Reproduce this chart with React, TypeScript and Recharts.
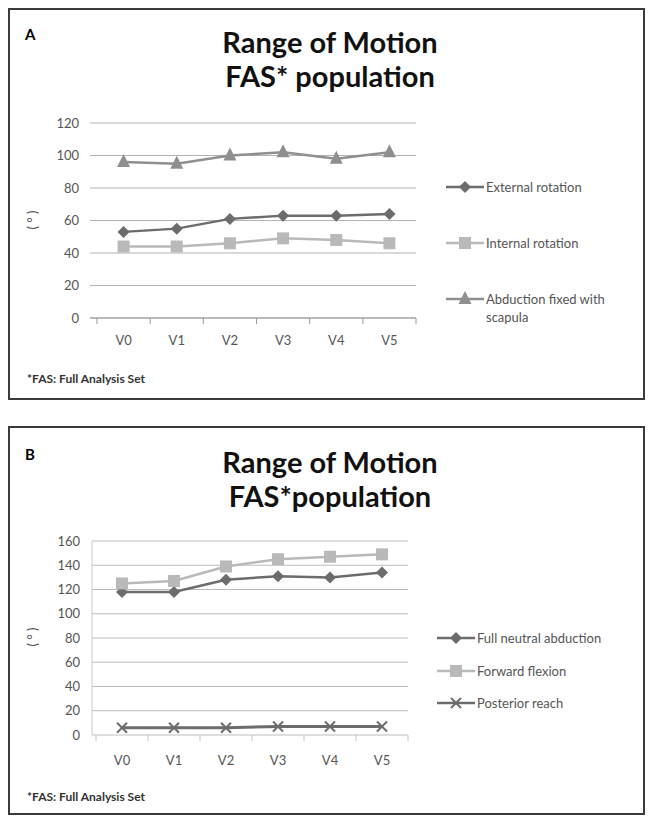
import React from 'react';
import { LineChart, Line, XAxis, YAxis, CartesianGrid, Legend } from 'recharts';

const visits = ['V0', 'V1', 'V2', 'V3', 'V4', 'V5'];

// panel A
const externalRotation = [53, 55, 61, 63, 63, 64];
const internalRotation = [44, 44, 46, 49, 48, 46];
const abductionFixed = [96, 95, 100, 102, 98, 102];
const ticksA = [0, 20, 40, 60, 80, 100, 120];

// panel B
const fullNeutralAbduction = [118, 118, 128, 131, 130, 134];
const forwardFlexion = [125, 127, 139, 145, 147, 149];
const posteriorReach = [6, 6, 6, 7, 7, 7];
const ticksB = [0, 20, 40, 60, 80, 100, 120, 140, 160];

const dataA = visits.map((v, i) => ({
  visit: v,
  ext: externalRotation[i],
  int: internalRotation[i],
  abd: abductionFixed[i],
}));

const dataB = visits.map((v, i) => ({
  visit: v,
  fna: fullNeutralAbduction[i],
  ff: forwardFlexion[i],
  pr: posteriorReach[i],
}));

const FONT = 'Lato, "Liberation Sans", sans-serif';
const DARK = '#6c6c6c';
const LIGHT = '#b9b9b9';
const MID = '#8f8f8f';
const TEXT = '#555';

const shapes: Record<string, string> = {
  ext: 'diamond',
  int: 'square',
  abd: 'triangle',
  fna: 'diamond',
  ff: 'square',
  pr: 'x',
};
// legend keeps series order, not alphabetical
const seriesOrder = ['ext', 'int', 'abd', 'fna', 'ff', 'pr'];

const Marker = ({ shape, cx, cy, color }: any) => {
  if (cx == null || cy == null) return null;
  if (shape === 'diamond') {
    const h = 6;
    return <polygon points={`${cx},${cy - h} ${cx + h},${cy} ${cx},${cy + h} ${cx - h},${cy}`} fill={color} />;
  }
  if (shape === 'square') {
    return <rect x={cx - 6} y={cy - 6} width={12} height={12} fill={color} />;
  }
  if (shape === 'triangle') {
    return <polygon points={`${cx},${cy - 8} ${cx + 6.5},${cy + 5} ${cx - 6.5},${cy + 5}`} fill={color} />;
  }
  return (
    <g stroke={color} strokeWidth={2}>
      <line x1={cx - 5} y1={cy - 5} x2={cx + 5} y2={cy + 5} />
      <line x1={cx - 5} y1={cy + 5} x2={cx + 5} y2={cy - 5} />
    </g>
  );
};

const dotFor = (key: string, color: string) => (p: any) =>
  <Marker key={`${key}-${p.index}`} shape={shapes[key]} cx={p.cx} cy={p.cy} color={color} />;

const VisitTick = ({ x, y, payload, index, half, lift, markColor }: any) => (
  <g>
    <text x={x} y={y} dy="0.35em" textAnchor="middle" fontSize={13} fill={TEXT} fontFamily={FONT}>
      {payload.value}
    </text>
    <line x1={x + half} x2={x + half} y1={y - lift} y2={y - lift + 6} stroke={markColor} />
    {index === 0 && <line x1={x - half} x2={x - half} y1={y - lift} y2={y - lift + 6} stroke={markColor} />}
  </g>
);

const LegendList = ({ payload, rowHeight, textWidth }: any) => {
  const items = [...(payload || [])].sort(
    (a: any, b: any) => seriesOrder.indexOf(a.dataKey) - seriesOrder.indexOf(b.dataKey)
  );
  return (
    <div style={{ fontFamily: FONT }}>
      {items.map((it: any) => (
        <div key={it.value} style={{ display: 'flex', alignItems: 'flex-start', height: rowHeight }}>
          <svg width={40} height={16} style={{ flex: 'none' }}>
            <line x1={0} y1={8} x2={38} y2={8} stroke={it.color} strokeWidth={2.5} />
            <Marker shape={shapes[it.dataKey]} cx={19} cy={8} color={it.color} />
          </svg>
          <span style={{ fontSize: 13, lineHeight: '18px', marginTop: -1, color: TEXT, width: textWidth }}>
            {it.value}
          </span>
        </div>
      ))}
    </div>
  );
};

const panelStyle = (top: number, height: number): React.CSSProperties => ({
  position: 'absolute',
  left: 8,
  top,
  width: 637,
  height,
  boxSizing: 'border-box',
  border: '2px solid #3a3a3a',
  background: '#fff',
});

const Title = ({ top, lines }: { top: number; lines: string[] }) => (
  <div
    style={{
      position: 'absolute',
      left: 0,
      top,
      width: 660,
      textAlign: 'center',
      fontFamily: FONT,
      fontWeight: 700,
      fontSize: 29,
      lineHeight: '34px',
      color: '#111',
    }}
  >
    {lines.map((l) => (
      <div key={l}>{l}</div>
    ))}
  </div>
);

const abs = (left: number, top: number, extra: React.CSSProperties = {}): React.CSSProperties => ({
  position: 'absolute',
  left,
  top,
  fontFamily: FONT,
  ...extra,
});

const DegreeLabel = ({ top }: { top: number }) => (
  <div
    style={abs(20, top, {
      width: 24,
      textAlign: 'center',
      fontSize: 13,
      color: TEXT,
      transform: 'rotate(-90deg)',
      whiteSpace: 'nowrap',
      lineHeight: '16px',
    })}
  >
    ( ° )
  </div>
);

export default function App() {
  return (
    <div style={{ position: 'absolute', left: 0, top: 0, width: 652, height: 827, background: '#fff' }}>
      <div style={panelStyle(8, 392)} />
      <div style={panelStyle(426, 389)} />

      {/* panel A */}
      <div style={abs(25, 25, { fontWeight: 700, fontSize: 15 })}>A</div>
      <Title top={25} lines={['Range of Motion', 'FAS* population']} />
      <DegreeLabel top={212} />
      <div style={{ position: 'absolute', left: 0, top: 100 }}>
        <LineChart width={652} height={300} data={dataA} margin={{ top: 23, right: 236, bottom: 52, left: 50 }}>
          <CartesianGrid horizontal vertical={false} stroke="#b3b3b3" />
          <XAxis
            dataKey="visit"
            scale="band"
            height={30}
            padding={{ left: 7, right: 0 }}
            axisLine={{ stroke: '#9a9a9a' }}
            tickLine={false}
            tickMargin={16}
            tick={<VisitTick half={26.6} lift={22} markColor="#9a9a9a" />}
            interval={0}
          />
          <YAxis
            width={40}
            domain={[0, 120]}
            ticks={ticksA}
            axisLine={false}
            tickLine={false}
            tickMargin={5}
            tick={{ fontSize: 13, fill: TEXT, fontFamily: FONT }}
          />
          <Legend
            layout="vertical"
            align="center"
            verticalAlign="middle"
            wrapperStyle={{ left: 446, top: 79, width: 200 }}
            content={(p: any) => <LegendList payload={p.payload} rowHeight={56} textWidth={152} />}
          />
          <Line dataKey="ext" name="External rotation" stroke={DARK} strokeWidth={2.5} dot={dotFor('ext', DARK)} isAnimationActive={false} />
          <Line dataKey="int" name="Internal rotation" stroke={LIGHT} strokeWidth={2.5} dot={dotFor('int', LIGHT)} isAnimationActive={false} />
          <Line dataKey="abd" name="Abduction fixed with scapula" stroke={MID} strokeWidth={2.5} dot={dotFor('abd', MID)} isAnimationActive={false} />
        </LineChart>
      </div>
      <div style={abs(27, 371, { fontWeight: 700, fontSize: 12, color: '#333' })}>*FAS: Full Analysis Set</div>

      {/* panel B */}
      <div style={abs(25, 445, { fontWeight: 700, fontSize: 15 })}>B</div>
      <Title top={445} lines={['Range of Motion', 'FAS*population']} />
      <DegreeLabel top={629} />
      <div style={{ position: 'absolute', left: 0, top: 510 }}>
        <LineChart width={652} height={300} data={dataB} margin={{ top: 31, right: 244, bottom: 45, left: 52 }}>
          <CartesianGrid horizontal vertical={false} stroke="#bdbdbd" />
          <XAxis
            dataKey="visit"
            scale="band"
            height={30}
            padding={{ left: 4, right: 0 }}
            axisLine={false}
            tickLine={false}
            tickMargin={19}
            tick={<VisitTick half={26} lift={25} markColor="#c4c4c4" />}
            interval={0}
          />
          <YAxis
            width={40}
            domain={[0, 160]}
            ticks={ticksB}
            axisLine={{ stroke: '#c8c8c8' }}
            tickLine={false}
            tickMargin={6}
            tick={{ fontSize: 13, fill: TEXT, fontFamily: FONT }}
          />
          <Legend
            layout="vertical"
            align="center"
            verticalAlign="middle"
            wrapperStyle={{ left: 437, top: 120, width: 210 }}
            content={(p: any) => <LegendList payload={p.payload} rowHeight={32.5} textWidth={170} />}
          />
          <Line dataKey="fna" name="Full neutral abduction" stroke={DARK} strokeWidth={2.5} dot={dotFor('fna', DARK)} isAnimationActive={false} />
          <Line dataKey="ff" name="Forward flexion" stroke={LIGHT} strokeWidth={2.5} dot={dotFor('ff', LIGHT)} isAnimationActive={false} />
          <Line dataKey="pr" name="Posterior reach" stroke={DARK} strokeWidth={3} dot={dotFor('pr', DARK)} isAnimationActive={false} />
        </LineChart>
      </div>
      <div style={abs(27, 789, { fontWeight: 700, fontSize: 12, color: '#333' })}>*FAS: Full Analysis Set</div>
    </div>
  );
}
